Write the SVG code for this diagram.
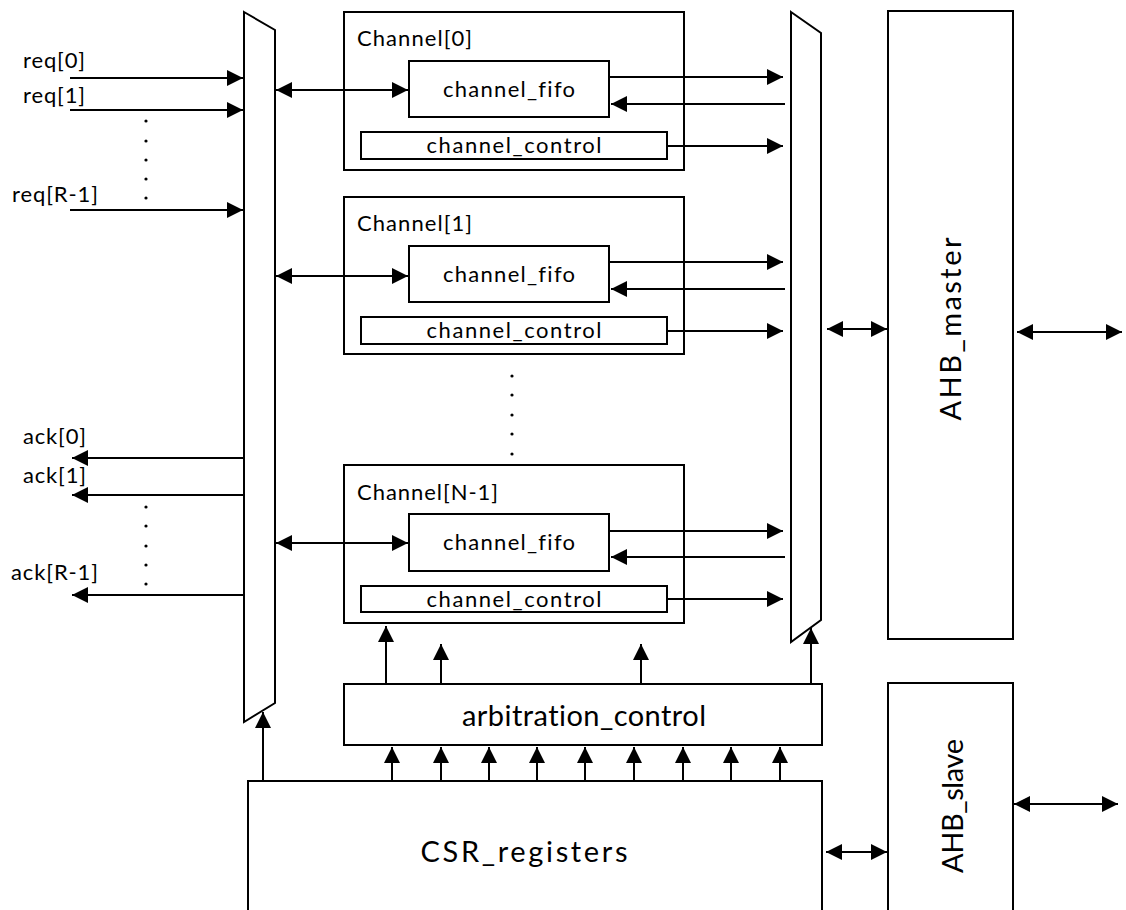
<svg xmlns="http://www.w3.org/2000/svg" width="1126" height="910" viewBox="0 0 1126 910">
<defs>
<style>
.box{fill:#fff;stroke:#000;stroke-width:2}
.open{fill:none;stroke:#000;stroke-width:2}
.ln{fill:none;stroke:#000;stroke-width:2}
.a{marker-end:url(#ah)}
.d{marker-start:url(#ah);marker-end:url(#ah)}
text{font-family:Lato,"Liberation Sans",sans-serif;fill:#000;font-variant-ligatures:none}
.s{font-size:22px}
.m{font-size:22px}
.l{font-size:29px}
.dot{fill:#000}
</style>
<marker id="ah" markerUnits="userSpaceOnUse" markerWidth="16" markerHeight="16" viewBox="0 0 16 16" refX="16" refY="8" orient="auto-start-reverse">
<path d="M0,0 L16,8 L0,16 z" fill="#000"/>
</marker>
</defs>
<rect width="1126" height="910" fill="#fff"/>

<g id="mux_left"><polygon class="box" points="244,12 275,30 275,703 244,722"/></g>
<g id="mux_right"><polygon class="box" points="791,12 821,33 821,620 791,642"/></g>

<g id="channel0">
<rect class="open" x="344" y="12" width="340" height="158"/>
<text class="s" x="357" y="46" textLength="115" lengthAdjust="spacing">Channel[0]</text>
<g id="channel0_fifo"><rect class="box" x="409" y="61" width="200" height="56"/>
<text class="m" x="509" y="97" text-anchor="middle" textLength="132" lengthAdjust="spacing">channel_fifo</text></g>
<g id="channel0_control"><rect class="box" x="361" y="132" width="306" height="27"/>
<text class="m" x="514" y="153" text-anchor="middle" textLength="175" lengthAdjust="spacing">channel_control</text></g>
</g>

<g id="channel1">
<rect class="open" x="344" y="197" width="340" height="157"/>
<text class="s" x="357" y="231" textLength="115" lengthAdjust="spacing">Channel[1]</text>
<g id="channel1_fifo"><rect class="box" x="409" y="246" width="200" height="56"/>
<text class="m" x="509" y="282" text-anchor="middle" textLength="132" lengthAdjust="spacing">channel_fifo</text></g>
<g id="channel1_control"><rect class="box" x="361" y="317" width="306" height="27"/>
<text class="m" x="514" y="338" text-anchor="middle" textLength="175" lengthAdjust="spacing">channel_control</text></g>
</g>

<g id="channelN1">
<rect class="open" x="344" y="465" width="340" height="158"/>
<text class="s" x="357" y="500" textLength="141" lengthAdjust="spacing">Channel[N-1]</text>
<g id="channelN1_fifo"><rect class="box" x="409" y="514" width="200" height="57"/>
<text class="m" x="509" y="550" text-anchor="middle" textLength="132" lengthAdjust="spacing">channel_fifo</text></g>
<g id="channelN1_control"><rect class="box" x="361" y="586" width="306" height="26"/>
<text class="m" x="514" y="607" text-anchor="middle" textLength="175" lengthAdjust="spacing">channel_control</text></g>
</g>

<g id="arbitration_control">
<rect class="box" x="344" y="684" width="478" height="61"/>
<text class="l" x="584" y="726" text-anchor="middle" textLength="244" lengthAdjust="spacing">arbitration_control</text>
</g>

<g id="csr_registers">
<path class="open" d="M248,912 V781 H822 V912"/>
<text class="l" x="524" y="862" text-anchor="middle" textLength="207" lengthAdjust="spacing">CSR_registers</text>
</g>

<g id="ahb_master">
<rect class="box" x="888" y="11" width="125" height="628"/>
<text class="l" transform="translate(961,329) rotate(-90)" text-anchor="middle" textLength="183" lengthAdjust="spacing">AHB_master</text>
</g>

<g id="ahb_slave">
<path class="open" d="M888,912 V683 H1013 V912"/>
<text class="l" transform="translate(963,806) rotate(-90)" text-anchor="middle" textLength="134" lengthAdjust="spacing">AHB_slave</text>
</g>

<g id="labels">
<text class="s" x="23" y="68" textLength="62" lengthAdjust="spacing">req[0]</text>
<text class="s" x="23" y="103" textLength="62" lengthAdjust="spacing">req[1]</text>
<text class="s" x="12" y="202" textLength="86" lengthAdjust="spacing">req[R-1]</text>
<text class="s" x="23" y="444" textLength="63" lengthAdjust="spacing">ack[0]</text>
<text class="s" x="23" y="483" textLength="63" lengthAdjust="spacing">ack[1]</text>
<text class="s" x="11" y="580" textLength="87" lengthAdjust="spacing">ack[R-1]</text>
</g>

<g id="ellipses">
<circle class="dot" cx="146" cy="121" r="1.6"/><circle class="dot" cx="146" cy="141" r="1.6"/><circle class="dot" cx="146" cy="160" r="1.6"/><circle class="dot" cx="146" cy="179" r="1.6"/><circle class="dot" cx="146" cy="198" r="1.6"/>
<circle class="dot" cx="146" cy="507" r="1.6"/><circle class="dot" cx="146" cy="526" r="1.6"/><circle class="dot" cx="146" cy="546" r="1.6"/><circle class="dot" cx="146" cy="565" r="1.6"/><circle class="dot" cx="146" cy="584" r="1.6"/>
<circle class="dot" cx="512" cy="376" r="1.6"/><circle class="dot" cx="512" cy="395" r="1.6"/><circle class="dot" cx="512" cy="415" r="1.6"/><circle class="dot" cx="512" cy="434" r="1.6"/><circle class="dot" cx="512" cy="454" r="1.6"/>
</g>

<g id="connectors">
<line class="ln a" x1="70" y1="78" x2="243" y2="78"/>
<line class="ln a" x1="70" y1="110" x2="243" y2="110"/>
<line class="ln a" x1="70" y1="210" x2="243" y2="210"/>
<line class="ln a" x1="244" y1="458" x2="72" y2="458"/>
<line class="ln a" x1="244" y1="495" x2="72" y2="495"/>
<line class="ln a" x1="244" y1="595" x2="72" y2="595"/>

<line class="ln d" x1="276" y1="90" x2="408" y2="90"/>
<line class="ln d" x1="276" y1="276" x2="408" y2="276"/>
<line class="ln d" x1="276" y1="543" x2="408" y2="543"/>

<line class="ln a" x1="609" y1="77" x2="783" y2="77"/>
<line class="ln a" x1="785" y1="104" x2="611" y2="104"/>
<line class="ln a" x1="667" y1="146" x2="783" y2="146"/>
<line class="ln a" x1="609" y1="262" x2="783" y2="262"/>
<line class="ln a" x1="785" y1="289" x2="611" y2="289"/>
<line class="ln a" x1="667" y1="331" x2="783" y2="331"/>
<line class="ln a" x1="609" y1="531" x2="783" y2="531"/>
<line class="ln a" x1="785" y1="557" x2="611" y2="557"/>
<line class="ln a" x1="667" y1="599" x2="783" y2="599"/>

<line class="ln d" x1="827" y1="329" x2="887" y2="329"/>
<line class="ln d" x1="1017" y1="332" x2="1122" y2="332"/>
<line class="ln d" x1="826" y1="852" x2="887" y2="852"/>
<line class="ln d" x1="1014" y1="804" x2="1118" y2="804"/>

<line class="ln a" x1="386" y1="684" x2="386" y2="626"/>
<line class="ln a" x1="441" y1="684" x2="441" y2="644"/>
<line class="ln a" x1="641" y1="684" x2="641" y2="644"/>
<line class="ln a" x1="811" y1="684" x2="811" y2="628"/>

<line class="ln a" x1="263" y1="781" x2="263" y2="712"/>

<line class="ln a" x1="392" y1="781" x2="392" y2="747"/>
<line class="ln a" x1="441" y1="781" x2="441" y2="747"/>
<line class="ln a" x1="489" y1="781" x2="489" y2="747"/>
<line class="ln a" x1="537" y1="781" x2="537" y2="747"/>
<line class="ln a" x1="585" y1="781" x2="585" y2="747"/>
<line class="ln a" x1="634" y1="781" x2="634" y2="747"/>
<line class="ln a" x1="683" y1="781" x2="683" y2="747"/>
<line class="ln a" x1="731" y1="781" x2="731" y2="747"/>
<line class="ln a" x1="780" y1="781" x2="780" y2="747"/>
</g>
</svg>
